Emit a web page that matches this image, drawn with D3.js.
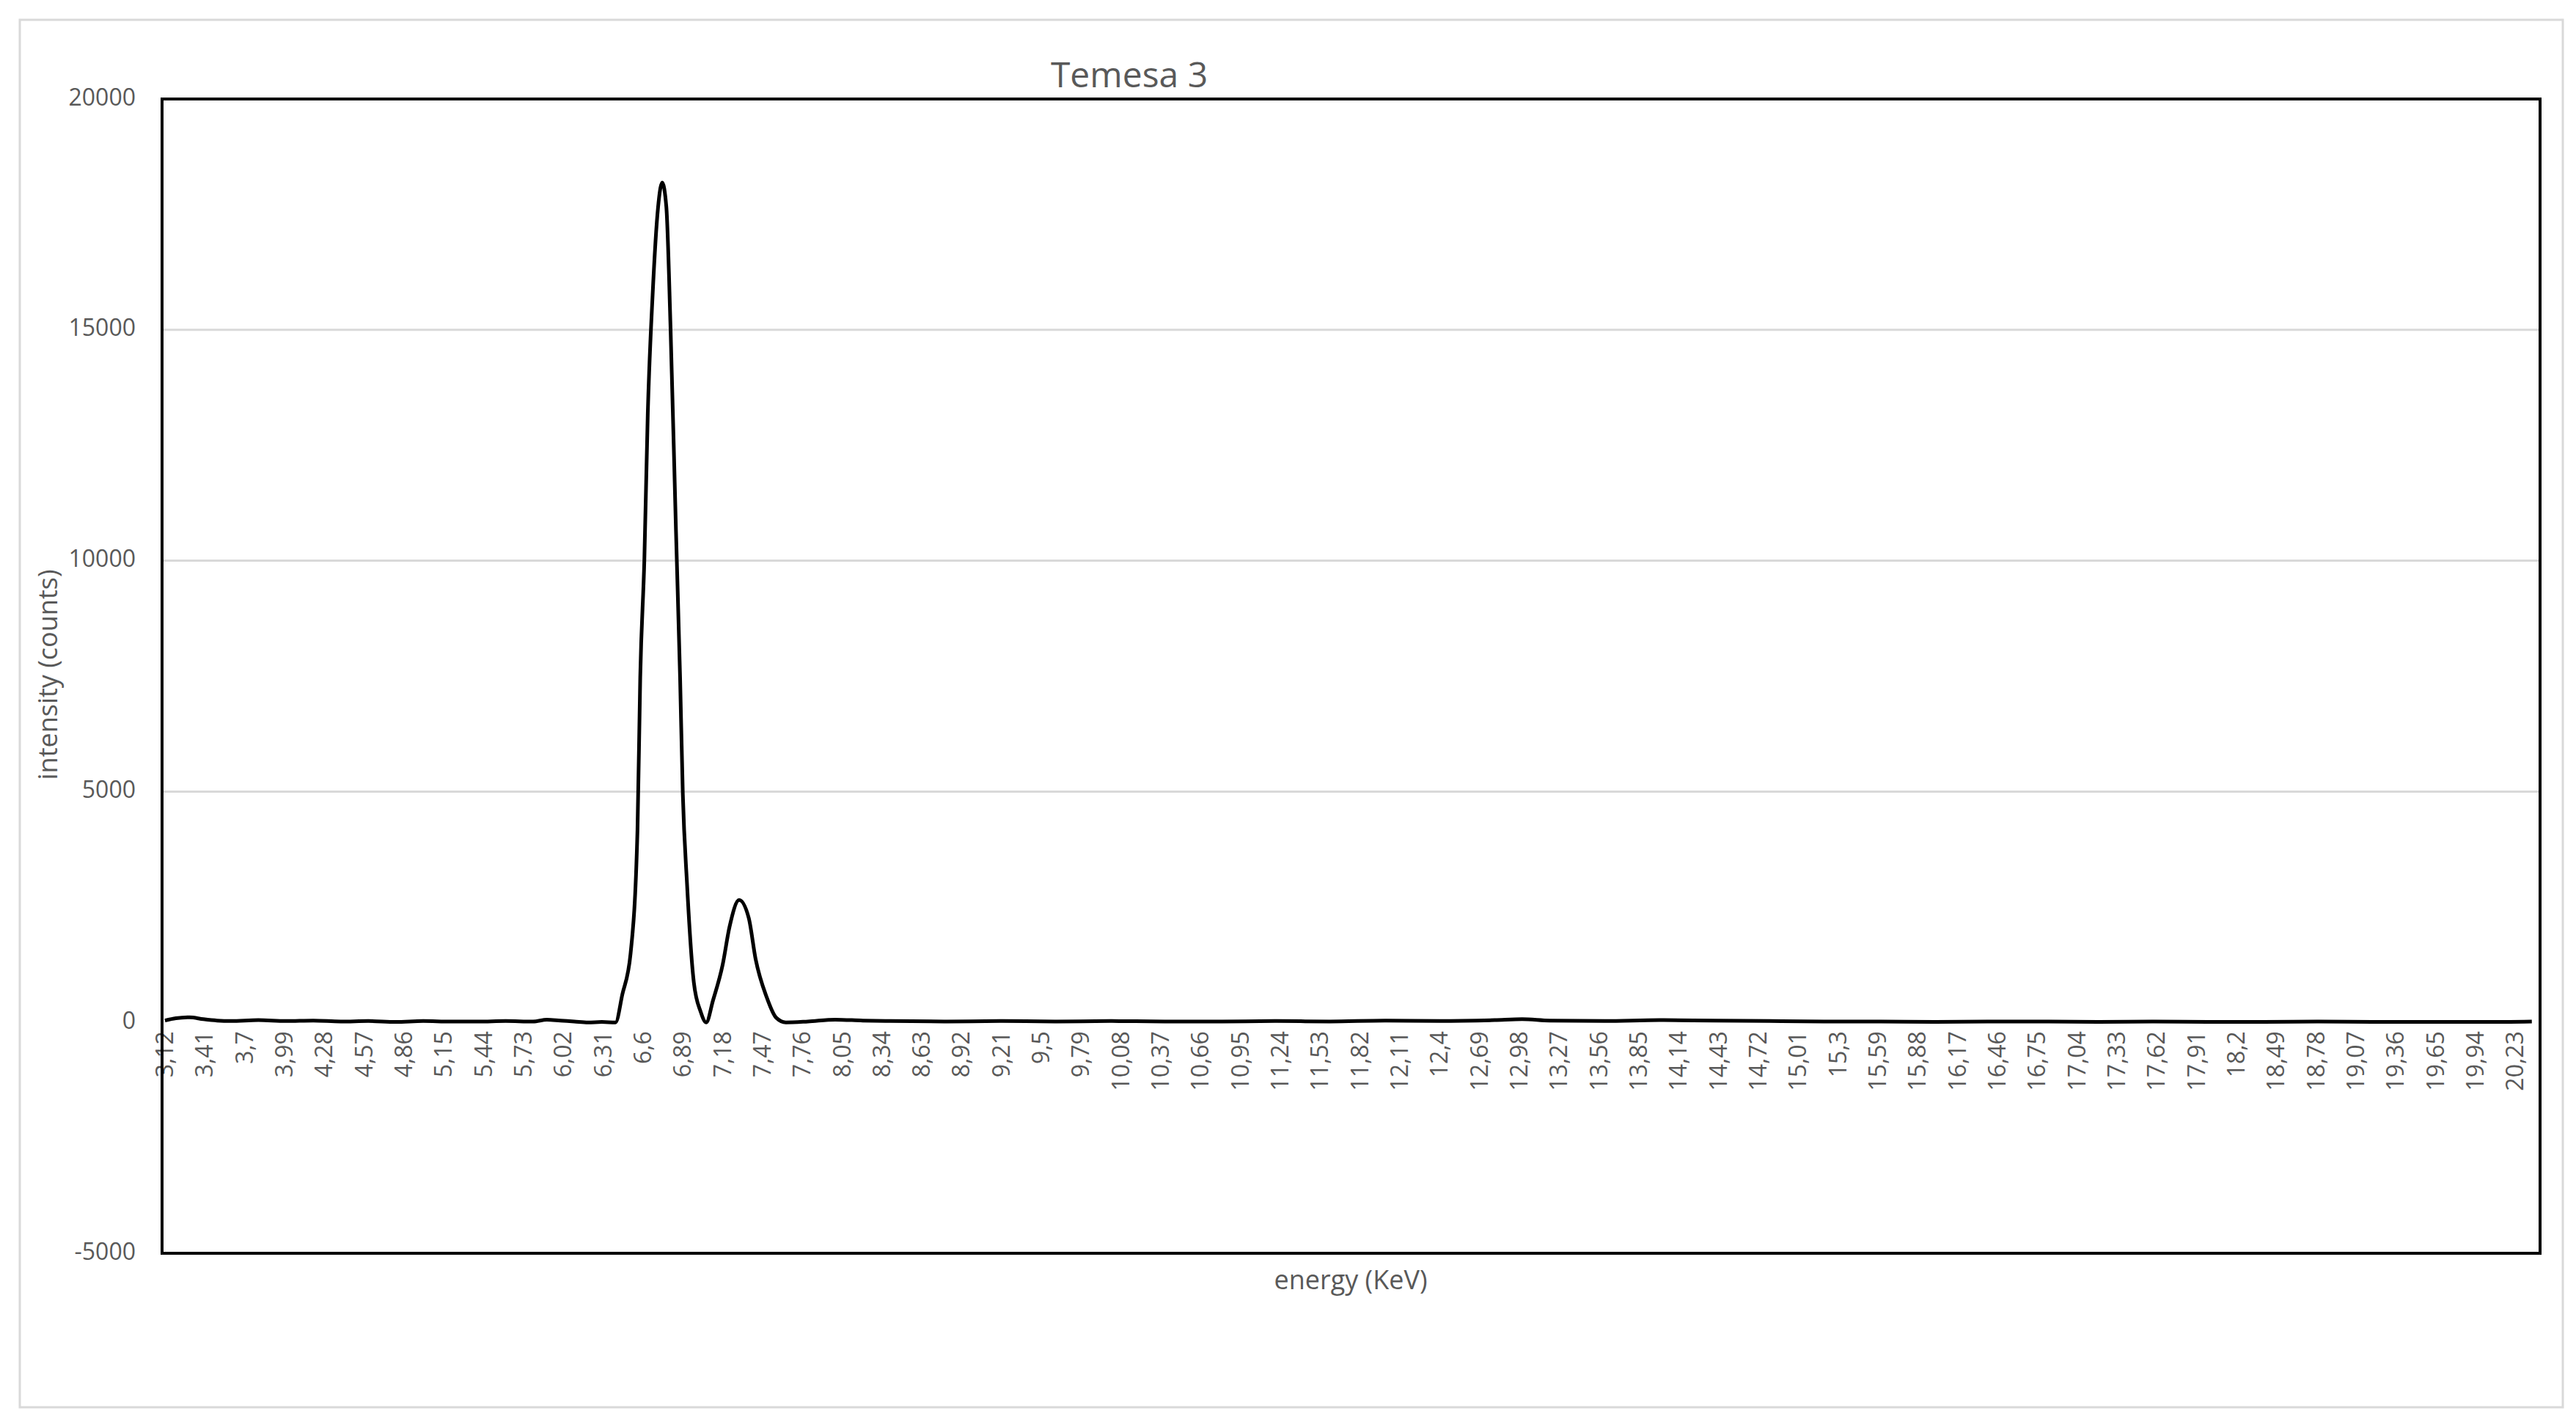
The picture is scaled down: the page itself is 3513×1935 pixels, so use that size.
<!DOCTYPE html>
<html>
<head>
<meta charset="utf-8">
<script src="https://cdn.jsdelivr.net/npm/d3@7"></script>
<style>
  body { margin: 0; background: #fff; }
  text { font-family: "Open Sans", "Liberation Sans", sans-serif; fill: #595959; }
</style>
</head>
<body>
<svg id="chart" width="3513" height="1935"></svg>
<script>
// energy (keV) and intensity (counts)
const energy = [
  3.12, 3.2, 3.3, 3.4, 3.5, 3.6, 3.8, 4.0, 4.2, 4.4, 4.6, 4.8, 5.0, 5.2, 5.4, 5.6, 5.8, 5.9, 6.0, 6.1, 6.2, 6.3, 6.4,
  6.45, 6.51, 6.56, 6.58, 6.61, 6.635, 6.67, 6.71, 6.74, 6.77, 6.80, 6.84, 6.87, 6.89, 6.92, 6.97, 7.02, 7.06,
  7.11, 7.18, 7.23, 7.30, 7.37, 7.42, 7.50, 7.57, 7.64, 7.8, 8.0, 8.2, 8.4, 8.8, 9.2, 9.6, 10.0, 10.4, 10.8,
  11.2, 11.6, 12.0, 12.4, 12.8, 13.0, 13.2, 13.6, 14.0, 14.4, 14.8, 15.2, 15.6, 16.0, 16.4, 16.8, 17.2, 17.6,
  18.0, 18.4, 18.8, 19.2, 19.6, 20.0, 20.35
];
const counts = [
  40, 90, 110, 70, 40, 30, 50, 30, 40, 20, 30, 10, 30, 20, 20, 30, 20, 60, 40, 20, 0, 10, 0,
  610, 1500, 4170, 7480, 10030, 13200, 15750, 17660, 18190, 17660, 15110, 10660, 7480, 4940, 3030, 870, 230, 0,
  480, 1250, 2070, 2650, 2260, 1370, 550, 100, 0, 20, 60, 40, 30, 20, 30, 20, 30, 20, 20,
  30, 20, 40, 30, 50, 70, 40, 30, 50, 40, 30, 20, 20, 10, 20, 20, 10, 20,
  10, 10, 20, 10, 10, 10, 20
];
const tickLabels = [
  "3,12","3,41","3,7","3,99","4,28","4,57","4,86","5,15","5,44","5,73","6,02","6,31","6,6","6,89","7,18","7,47",
  "7,76","8,05","8,34","8,63","8,92","9,21","9,5","9,79","10,08","10,37","10,66","10,95","11,24","11,53","11,82",
  "12,11","12,4","12,69","12,98","13,27","13,56","13,85","14,14","14,43","14,72","15,01","15,3","15,59","15,88",
  "16,17","16,46","16,75","17,04","17,33","17,62","17,91","18,2","18,49","18,78","19,07","19,36","19,65","19,94","20,23"
];
const yTicks = [-5000, 0, 5000, 10000, 15000, 20000];

const svg = d3.select('#chart');
const plotLeft = 221, plotRight = 3464, plotTop = 135, plotBottom = 1709;

// outer chart-area border
svg.append('rect')
    .attr('x', 27).attr('y', 27).attr('width', 3468).attr('height', 1892)
    .attr('fill', 'none').attr('stroke', '#d9d9d9').attr('stroke-width', 3);

const x = d3.scaleLinear().domain([3.099, 20.41]).range([plotLeft, plotRight]);
const y = d3.scaleLinear().domain([-5000, 20000]).range([plotBottom, plotTop]);

// gridlines
svg.append('g').selectAll('line')
    .data(yTicks.filter(d => d > 0 && d < 20000))
    .join('line')
    .attr('x1', plotLeft).attr('x2', plotRight)
    .attr('y1', d => y(d)).attr('y2', d => y(d))
    .attr('stroke', '#d9d9d9').attr('stroke-width', 3);

// y tick labels
svg.append('g').selectAll('text')
    .data(yTicks)
    .join('text')
    .attr('x', 185).attr('y', d => y(d))
    .attr('text-anchor', 'end').attr('dominant-baseline', 'middle')
    .attr('font-size', '32px')
    .text(d => d);

// x tick labels, rotated
svg.append('g').selectAll('text')
    .data(tickLabels)
    .join('text')
    .attr('transform', d => `translate(${x(+d.replace(',', '.')) + 11}, ${y(0) + 12}) rotate(-90)`)
    .attr('text-anchor', 'end')
    .attr('font-size', '32px')
    .text(d => d);

// spectrum line
const line = d3.line()
    .x((d, i) => x(energy[i]))
    .y(d => y(d))
    .curve(d3.curveMonotoneX);

svg.append('path')
    .datum(counts)
    .attr('d', line)
    .attr('fill', 'none')
    .attr('stroke', '#000')
    .attr('stroke-width', 5)
    .attr('stroke-linejoin', 'round');

// plot border
svg.append('rect')
    .attr('x', plotLeft).attr('y', plotTop)
    .attr('width', plotRight - plotLeft).attr('height', plotBottom - plotTop)
    .attr('fill', 'none').attr('stroke', '#000').attr('stroke-width', 4);

// titles
svg.append('text')
    .attr('x', 1540).attr('y', 106)
    .attr('text-anchor', 'middle').attr('dominant-baseline', 'middle')
    .attr('font-size', '48px')
    .text('Temesa 3');

svg.append('text')
    .attr('x', 1842).attr('y', 1748)
    .attr('text-anchor', 'middle').attr('dominant-baseline', 'middle')
    .attr('font-size', '36px')
    .text('energy (KeV)');

svg.append('text')
    .attr('transform', 'translate(68, 920) rotate(-90)')
    .attr('text-anchor', 'middle').attr('dominant-baseline', 'middle')
    .attr('font-size', '36px')
    .text('intensity (counts)');
</script>
</body>
</html>
